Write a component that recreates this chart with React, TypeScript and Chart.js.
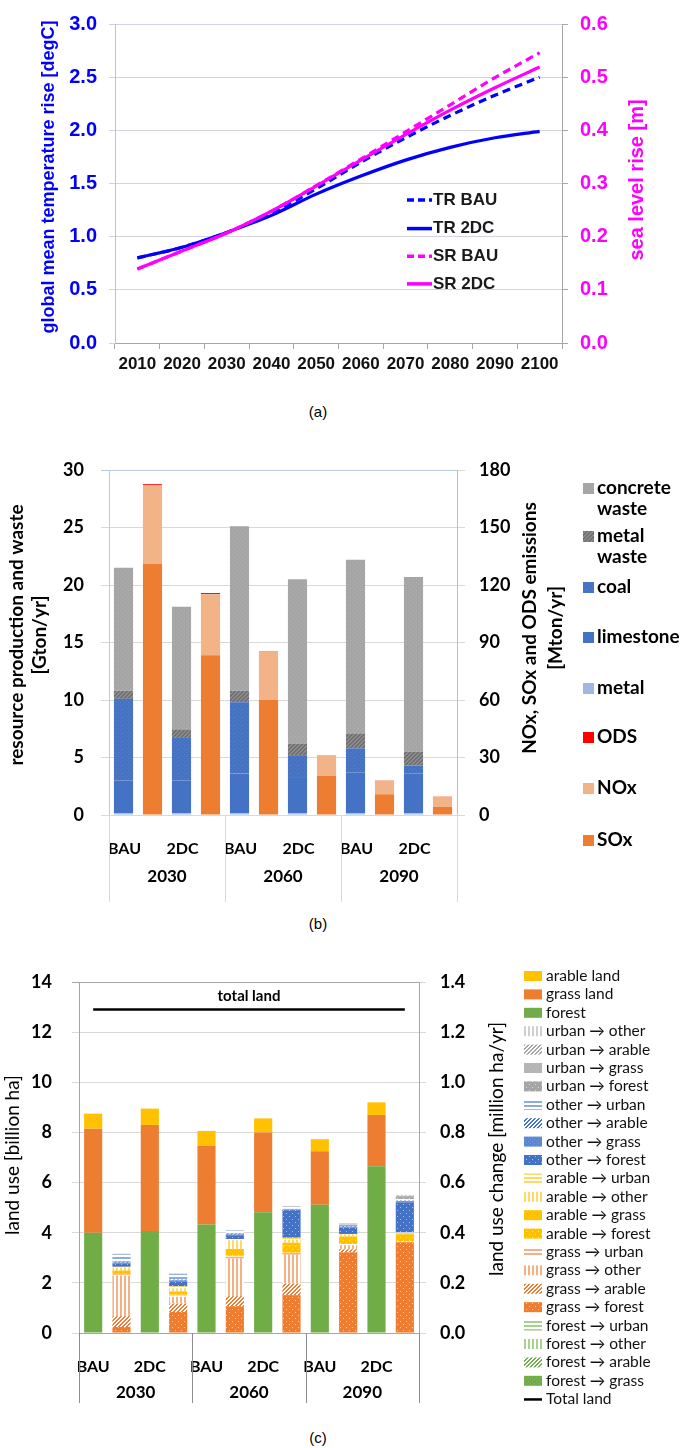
import React, { useEffect, useRef } from "react";
import { Chart, registerables } from "chart.js";
Chart.register(...registerables);

// ---------------- Panel (a): temperature & sea level ----------------
const yearLabels = ["2010", "2020", "2030", "2040", "2050", "2060", "2070", "2080", "2090", "2100"];
const trBAU = [0.8, 0.9, 1.04, 1.22, 1.45, 1.7, 1.93, 2.14, 2.33, 2.5];
const tr2DC = [0.8, 0.9, 1.04, 1.2, 1.4, 1.57, 1.72, 1.84, 1.93, 1.99];
const srBAU = [0.139, 0.173, 0.207, 0.248, 0.296, 0.346, 0.397, 0.448, 0.499, 0.546];
const sr2DC = [0.139, 0.173, 0.207, 0.248, 0.295, 0.344, 0.392, 0.438, 0.48, 0.519];

// ---------------- shared categories for (b) and (c) ----------------
const groupYears = ["2030", "2060", "2090"];
const scenarioNames = ["BAU", "2DC"];
// scenario order: 2030 BAU, 2030 2DC, 2060 BAU, 2060 2DC, 2090 BAU, 2090 2DC

// ---------------- Panel (b): resources [Gton/yr] and emissions [Mton/yr] ----------------
const metal = [0.15, 0.15, 0.15, 0.15, 0.15, 0.15];
const limestone = [2.85, 2.85, 3.45, 3.15, 3.55, 3.45];
const coal = [7.1, 3.7, 6.2, 1.9, 2.1, 0.7];
const metalWaste = [0.7, 0.7, 1.0, 1.0, 1.3, 1.2];
const concreteWaste = [10.7, 10.7, 14.3, 14.3, 15.1, 15.2];
const sox = [131, 83.4, 60, 20.4, 10.8, 4.2];
const nox = [41, 31.8, 25.2, 10.8, 7.2, 5.4];
const ods = [0.6, 0.6, 0.2, 0.1, 0.1, 0.1];

// ---------------- Panel (c): land use [billion ha] and change [million ha/yr] ----------------
const forestLand = [4.0, 4.07, 4.33, 4.82, 5.12, 6.65];
const grassLand = [4.15, 4.23, 3.13, 3.18, 2.13, 2.05];
const arableLand = [0.6, 0.65, 0.6, 0.56, 0.48, 0.5];
const totalLand = [12.9, 12.9, 12.9, 12.9, 12.9, 12.9, 12.9, 12.9, 12.9, 12.9, 12.9, 12.9];

const forestToGrass = [0, 0, 0, 0, 0, 0];
const forestToArable = [0, 0, 0, 0, 0, 0];
const forestToOther = [0, 0, 0, 0, 0, 0];
const forestToUrban = [0, 0, 0, 0, 0, 0];
const grassToForest = [0.024, 0.084, 0.107, 0.151, 0.322, 0.362];
const grassToArable = [0.043, 0.033, 0.04, 0.046, 0.012, 0.002];
const grassToOther = [0.162, 0.027, 0.15, 0.115, 0.016, 0.002];
const grassToUrban = [0.005, 0.005, 0.008, 0.008, 0.005, 0.001];
const arableToForest = [0.005, 0.005, 0.005, 0.03, 0.02, 0.025];
const arableToGrass = [0.01, 0.012, 0.025, 0.01, 0.01, 0.005];
const arableToOther = [0.012, 0.012, 0.035, 0.012, 0.008, 0.002];
const arableToUrban = [0.003, 0.008, 0.005, 0.008, 0.002, 0.002];
const otherToForest = [0.012, 0.02, 0.015, 0.11, 0.025, 0.12];
const otherToGrass = [0.005, 0.004, 0.003, 0.003, 0.004, 0.005];
const otherToArable = [0.003, 0.003, 0.003, 0.002, 0.002, 0.002];
const otherToUrban = [0.03, 0.022, 0.012, 0.008, 0.006, 0.006];
const urbanToForest = [0.001, 0.001, 0.001, 0.002, 0.004, 0.008];
const urbanToGrass = [0.001, 0.001, 0.001, 0.001, 0.001, 0.005];
const urbanToArable = [0, 0, 0, 0, 0, 0.002];
const urbanToOther = [0, 0, 0, 0, 0, 0.002];

// ---------------- styling ----------------
const ARIAL = "'Liberation Sans', Arial, sans-serif";
const CAL = "Lato, 'Open Sans', sans-serif";
const W = 685;
const TOP_A = 0, H_A = 400;
const TOP_B = 430, H_B = 480;
const TOP_C = 945, H_C = 470;

const slotLabels = groupYears.flatMap(() => scenarioNames.flatMap((s) => [s, ""]));
const onLeft = (arr: number[]) => arr.flatMap((v) => [v, null]);
const onRight = (arr: number[]) => arr.flatMap((v) => [null, v]);

function pat(kind: string, fg: string, bg = "#ffffff"): any {
  if (kind === "solid") return fg;
  const n = kind === "dots" ? 6 : 4;
  const c = document.createElement("canvas");
  c.width = n;
  c.height = n;
  const g = c.getContext("2d")!;
  g.fillStyle = bg;
  g.fillRect(0, 0, n, n);
  g.fillStyle = fg;
  if (kind === "h") {
    g.fillRect(0, 0, n, 2);
  } else if (kind === "v") {
    g.fillRect(0, 0, 2, n);
  } else if (kind === "diag") {
    for (let i = 0; i < n; i++) {
      g.fillRect(i, n - 1 - i, 1, 1);
      g.fillRect((i + 1) % n, n - 1 - i, 1, 1);
    }
  } else if (kind === "dots") {
    g.fillRect(0, 0, n, n);
    g.fillStyle = bg;
    g.fillRect(1, 1, 1, 1);
    g.fillRect(4, 4, 1, 1);
  } else if (kind === "fine") {
    g.fillRect(0, 0, n, n);
    g.fillStyle = bg;
    g.globalAlpha = 0.35;
    g.fillRect(0, 0, 1, 1);
    g.fillRect(2, 2, 1, 1);
  }
  return g.createPattern(c, "repeat");
}

function rotText(ctx: CanvasRenderingContext2D, text: string, x: number, y: number, font: string, color: string) {
  ctx.save();
  ctx.translate(x, y);
  ctx.rotate(-Math.PI / 2);
  ctx.font = font;
  ctx.fillStyle = color;
  ctx.textAlign = "center";
  ctx.textBaseline = "middle";
  ctx.fillText(text, 0, 0);
  ctx.restore();
}

function drawGroups(chart: any, labelY: number, lineBottom: number, font: string, lineColor: string) {
  const { ctx, chartArea } = chart;
  const xs = chart.scales.x;
  const n = groupYears.length;
  const bounds: number[] = [];
  for (let g = 0; g <= n; g++) bounds.push(xs.left + ((xs.right - xs.left) * g) / n);
  ctx.save();
  ctx.strokeStyle = lineColor;
  ctx.lineWidth = 1;
  bounds.forEach((b) => {
    const px = Math.round(b) + 0.5;
    ctx.beginPath();
    ctx.moveTo(px, chartArea.bottom);
    ctx.lineTo(px, lineBottom);
    ctx.stroke();
  });
  ctx.font = font;
  ctx.fillStyle = "#000";
  ctx.textAlign = "center";
  ctx.textBaseline = "middle";
  groupYears.forEach((y, i) => ctx.fillText(y, (bounds[i] + bounds[i + 1]) / 2, labelY));
  ctx.restore();
}

function buildA(canvas: HTMLCanvasElement) {
  const legendItems = [
    { label: "TR BAU", color: "#0000FF", dash: [7, 4], v: 1.345 },
    { label: "TR 2DC", color: "#0000FF", dash: [], v: 1.076 },
    { label: "SR BAU", color: "#FF00FF", dash: [7, 4], v: 0.816 },
    { label: "SR 2DC", color: "#FF00FF", dash: [], v: 0.556 },
  ];
  const extras = {
    id: "extrasA",
    afterDraw(chart: any) {
      const { ctx, chartArea } = chart;
      const y = chart.scales.y;
      rotText(ctx, "global mean temperature rise [degC]", 49, 177, `bold 18px ${ARIAL}`, "#0000FF");
      rotText(ctx, "sea level rise [m]", 637, 180, `bold 20px ${ARIAL}`, "#FF00FF");
      ctx.save();
      legendItems.forEach((it) => {
        const py = y.getPixelForValue(it.v);
        ctx.strokeStyle = it.color;
        ctx.lineWidth = 3.5;
        ctx.setLineDash(it.dash);
        ctx.beginPath();
        ctx.moveTo(chartArea.left + 292, py);
        ctx.lineTo(chartArea.left + 317, py);
        ctx.stroke();
        ctx.setLineDash([]);
        ctx.fillStyle = "#1a1a1a";
        ctx.font = `bold 17px ${ARIAL}`;
        ctx.textBaseline = "middle";
        ctx.textAlign = "left";
        ctx.fillText(it.label, chartArea.left + 318, py);
      });
      ctx.restore();
    },
  };
  const line = (label: string, data: number[], color: string, axis: string, dashed: boolean, order: number) => ({
    label,
    data,
    yAxisID: axis,
    borderColor: color,
    backgroundColor: color,
    borderWidth: 3.2,
    borderDash: dashed ? [8, 5] : [],
    pointRadius: 0,
    cubicInterpolationMode: "monotone",
    fill: false,
    order,
  });
  return new Chart(canvas, {
    type: "line",
    data: {
      labels: yearLabels,
      datasets: [
        line("TR BAU", trBAU, "#0000FF", "y", true, 3),
        line("TR 2DC", tr2DC, "#0000FF", "y", false, 2),
        line("SR BAU", srBAU, "#FF00FF", "y2", true, 1),
        line("SR 2DC", sr2DC, "#FF00FF", "y2", false, 0),
      ] as any,
    },
    options: {
      responsive: false,
      animation: false,
      layout: { padding: { top: 8, left: 0, right: 0, bottom: 0 } },
      plugins: { legend: { display: false }, tooltip: { enabled: false } },
      scales: {
        x: {
          type: "category",
          offset: true,
          grid: { offset: true, drawOnChartArea: false, drawTicks: true, tickLength: 6, color: "#A6A6A6" },
          border: { color: "#A6A6A6" },
          ticks: { color: "#111", font: { family: ARIAL, size: 17, weight: "bold" }, padding: 5, autoSkip: false, maxRotation: 0 },
          afterFit: (s: any) => { s.height = H_A - 343; },
        },
        y: {
          position: "left",
          min: 0,
          max: 3,
          ticks: { stepSize: 0.5, color: "#0000FF", font: { family: ARIAL, size: 20, weight: "bold" }, padding: 12, callback: (v: any) => Number(v).toFixed(1) },
          grid: { color: "#D3D3DF", tickLength: 6 },
          border: { color: "#BDBDEB" },
          afterFit: (s: any) => { s.width = 115; },
        },
        y2: {
          position: "right",
          min: 0,
          max: 0.6,
          ticks: { stepSize: 0.1, color: "#FF00FF", font: { family: ARIAL, size: 20, weight: "bold" }, padding: 12, callback: (v: any) => Number(v).toFixed(1) },
          grid: { drawOnChartArea: false, tickLength: 6, color: "#A6A6A6" },
          border: { color: "#A6A6A6" },
          afterFit: (s: any) => { s.width = W - 562; },
        },
      },
    } as any,
    plugins: [extras],
  });
}

function buildB(canvas: HTMLCanvasElement) {
  const P = {
    concrete: pat("fine", "#A5A5A5", "#C8C8C8"),
    metalWaste: pat("diag", "#6F6F6F", "#8C8C8C"),
    coal: pat("fine", "#4472C4", "#7B9BD6"),
    limestone: "#4472C4",
    metal: pat("fine", "#9DB7E3", "#C5D4EF"),
    ods: "#FF0000",
    nox: pat("fine", "#F4B183", "#F8CBAD"),
    sox: "#ED7D31",
  };
  const legend = [
    { lines: ["concrete", "waste"], fill: P.concrete, y: 488 },
    { lines: ["metal", "waste"], fill: P.metalWaste, y: 536 },
    { lines: ["coal"], fill: P.coal, y: 587 },
    { lines: ["limestone"], fill: P.limestone, y: 637 },
    { lines: ["metal"], fill: P.metal, y: 688 },
    { lines: ["ODS"], fill: P.ods, y: 737 },
    { lines: ["NOx"], fill: P.nox, y: 788 },
    { lines: ["SOx"], fill: P.sox, y: 840 },
  ];
  const extras = {
    id: "extrasB",
    afterDraw(chart: any) {
      const { ctx } = chart;
      const f = `bold 19px ${CAL}`;
      rotText(ctx, "resource production and waste", 17, 635 - TOP_B, f, "#000");
      rotText(ctx, "[Gton/yr]", 40, 635 - TOP_B, f, "#000");
      rotText(ctx, "NOx, SOx and ODS emissions", 530, 628 - TOP_B, f, "#000");
      rotText(ctx, "[Mton/yr]", 556, 628 - TOP_B, f, "#000");
      drawGroups(chart, 877 - TOP_B, 902 - TOP_B, `bold 17px ${CAL}`, "#D9D9D9");
      ctx.save();
      legend.forEach((it) => {
        const y0 = it.y - TOP_B;
        ctx.fillStyle = it.fill;
        ctx.fillRect(583, y0 - 5, 11, 11);
        ctx.fillStyle = "#000";
        ctx.font = f;
        ctx.textBaseline = "middle";
        ctx.textAlign = "left";
        it.lines.forEach((t, k) => ctx.fillText(t, 597, y0 + k * 21));
      });
      ctx.restore();
    },
  };
  const bar = (label: string, data: (number | null)[], color: any, axis: string) => ({
    label,
    data,
    backgroundColor: color,
    yAxisID: axis,
    barPercentage: 0.66,
    categoryPercentage: 1,
    borderWidth: 0,
  });
  const tickFont = { family: CAL, size: 18, weight: "bold" };
  return new Chart(canvas, {
    type: "bar",
    data: {
      labels: slotLabels,
      datasets: [
        bar("metal", onLeft(metal), P.metal, "y"),
        bar("limestone", onLeft(limestone), P.limestone, "y"),
        bar("coal", onLeft(coal), P.coal, "y"),
        bar("metal waste", onLeft(metalWaste), P.metalWaste, "y"),
        bar("concrete waste", onLeft(concreteWaste), P.concrete, "y"),
        bar("SOx", onRight(sox), P.sox, "y2"),
        bar("NOx", onRight(nox), P.nox, "y2"),
        bar("ODS", onRight(ods), P.ods, "y2"),
      ] as any,
    },
    options: {
      responsive: false,
      animation: false,
      layout: { padding: { top: 470 - TOP_B, left: 0, right: 0, bottom: 0 } },
      plugins: { legend: { display: false }, tooltip: { enabled: false } },
      scales: {
        x: {
          stacked: true,
          grid: { display: false },
          border: { display: true, color: "#D9D9D9" },
          ticks: { autoSkip: false, maxRotation: 0, color: "#000", font: { family: CAL, size: 16, weight: "bold" }, padding: 16, labelOffset: 1 },
          afterFit: (s: any) => { s.height = H_B - (815 - TOP_B); },
        },
        y: {
          stacked: true,
          min: 0,
          max: 30,
          ticks: { stepSize: 5, padding: 17, color: "#000", font: tickFont },
          grid: { color: (c: any) => (c.tick && c.tick.value === 30 ? "#B4C7E7" : "#D9D9D9"), tickLength: 8 },
          border: { color: "#C5C5DD" },
          afterFit: (s: any) => { s.width = 109; },
        },
        y2: {
          position: "right",
          stacked: true,
          min: 0,
          max: 180,
          ticks: { stepSize: 30, padding: 14, color: "#000", font: tickFont },
          grid: { drawOnChartArea: false, tickLength: 8, color: "#D9D9D9" },
          border: { color: "#BFBFBF" },
          afterFit: (s: any) => { s.width = W - 457; },
        },
      },
    } as any,
    plugins: [extras],
  });
}

function buildC(canvas: HTMLCanvasElement) {
  const P: Record<string, any> = {
    arableLand: pat("fine", "#FFC000", "#FFD24D"),
    grassLand: "#ED7D31",
    forest: "#70AD47",
    urbanToOther: pat("v", "#CFCFCF"),
    urbanToArable: pat("diag", "#A5A5A5"),
    urbanToGrass: pat("fine", "#B4B4B4", "#D8D8D8"),
    urbanToForest: pat("dots", "#A5A5A5", "#D9D9D9"),
    otherToUrban: pat("h", "#8FAADC"),
    otherToArable: pat("diag", "#4472C4"),
    otherToGrass: pat("fine", "#5B86D0", "#9DB7E3"),
    otherToForest: pat("dots", "#4472C4", "#A9BFE8"),
    arableToUrban: pat("h", "#FFD966"),
    arableToOther: pat("v", "#FFD966"),
    arableToGrass: pat("fine", "#FFC000", "#FFE699"),
    arableToForest: pat("dots", "#FFC000", "#FFE699"),
    grassToUrban: pat("h", "#F4B183"),
    grassToOther: pat("v", "#F4B183"),
    grassToArable: pat("diag", "#ED7D31"),
    grassToForest: pat("dots", "#ED7D31", "#F8CBAD"),
    forestToUrban: pat("h", "#A9D18E"),
    forestToOther: pat("v", "#A9D18E"),
    forestToArable: pat("diag", "#70AD47"),
    forestToGrass: pat("fine", "#70AD47", "#A9D18E"),
  };
  const changeSeries: [string, string, number[]][] = [
    ["forest → grass", "forestToGrass", forestToGrass],
    ["forest → arable", "forestToArable", forestToArable],
    ["forest → other", "forestToOther", forestToOther],
    ["forest → urban", "forestToUrban", forestToUrban],
    ["grass → forest", "grassToForest", grassToForest],
    ["grass → arable", "grassToArable", grassToArable],
    ["grass → other", "grassToOther", grassToOther],
    ["grass → urban", "grassToUrban", grassToUrban],
    ["arable → forest", "arableToForest", arableToForest],
    ["arable → grass", "arableToGrass", arableToGrass],
    ["arable → other", "arableToOther", arableToOther],
    ["arable → urban", "arableToUrban", arableToUrban],
    ["other → forest", "otherToForest", otherToForest],
    ["other → grass", "otherToGrass", otherToGrass],
    ["other → arable", "otherToArable", otherToArable],
    ["other → urban", "otherToUrban", otherToUrban],
    ["urban → forest", "urbanToForest", urbanToForest],
    ["urban → grass", "urbanToGrass", urbanToGrass],
    ["urban → arable", "urbanToArable", urbanToArable],
    ["urban → other", "urbanToOther", urbanToOther],
  ];
  const legend: { label: string; fill: any; line?: boolean }[] = [
    { label: "arable land", fill: P.arableLand },
    { label: "grass land", fill: P.grassLand },
    { label: "forest", fill: P.forest },
    ...changeSeries.slice().reverse().map(([label, key]) => ({ label, fill: P[key] })),
    { label: "Total land", fill: "#000", line: true },
  ];
  const extras = {
    id: "extrasC",
    afterDraw(chart: any) {
      const { ctx, chartArea } = chart;
      const y = chart.scales.y;
      rotText(ctx, "land use [billion ha]", 13, 1155 - TOP_C, `19px ${CAL}`, "#000");
      rotText(ctx, "land use change [million ha/yr]", 497, 1149 - TOP_C, `19px ${CAL}`, "#000");
      drawGroups(chart, 1393 - TOP_C, 1403 - TOP_C, `bold 17px ${CAL}`, "#8C8C8C");
      ctx.save();
      ctx.font = `bold 15px ${CAL}`;
      ctx.fillStyle = "#000";
      ctx.textAlign = "center";
      ctx.textBaseline = "middle";
      ctx.fillText("total land", (chartArea.left + chartArea.right) / 2, y.getPixelForValue(totalLand[0]) - 13);
      ctx.font = `15.5px ${CAL}`;
      ctx.textAlign = "left";
      legend.forEach((it, i) => {
        const yy = 976 - TOP_C + i * 18.4;
        if (it.line) {
          ctx.fillStyle = "#000";
          ctx.fillRect(524, yy - 1, 18, 2.5);
        } else {
          ctx.fillStyle = it.fill;
          ctx.fillRect(524, yy - 5, 18, 10);
        }
        ctx.fillStyle = "#111";
        ctx.fillText(it.label, 546, yy);
      });
      ctx.restore();
    },
  };
  const bar = (label: string, data: (number | null)[], color: any, axis: string) => ({
    type: "bar",
    label,
    data,
    backgroundColor: color,
    yAxisID: axis,
    barPercentage: 0.64,
    categoryPercentage: 1,
    borderWidth: 0,
  });
  const tickFont = { family: CAL, size: 18, weight: "bold" };
  return new Chart(canvas, {
    type: "bar",
    data: {
      labels: slotLabels,
      datasets: [
        bar("forest", onLeft(forestLand), P.forest, "y"),
        bar("grass land", onLeft(grassLand), P.grassLand, "y"),
        bar("arable land", onLeft(arableLand), P.arableLand, "y"),
        ...changeSeries.map(([label, key, arr]) => bar(label, onRight(arr), P[key], "y2")),
        {
          type: "line",
          label: "Total land",
          data: totalLand,
          yAxisID: "y",
          borderColor: "#000",
          backgroundColor: "#000",
          borderWidth: 2.5,
          pointRadius: 0,
          fill: false,
        },
      ] as any,
    },
    options: {
      responsive: false,
      animation: false,
      layout: { padding: { top: 982 - TOP_C, left: 0, right: 0, bottom: 0 } },
      plugins: { legend: { display: false }, tooltip: { enabled: false } },
      scales: {
        x: {
          stacked: true,
          grid: { display: false },
          border: { display: true, color: "#A6A6A6" },
          ticks: { autoSkip: false, maxRotation: 0, color: "#000", font: { family: CAL, size: 16, weight: "bold" }, padding: 16 },
          afterFit: (s: any) => { s.height = H_C - (1333 - TOP_C); },
        },
        y: {
          stacked: true,
          min: 0,
          max: 14,
          ticks: { stepSize: 2, padding: 20, color: "#000", font: tickFont },
          grid: { color: (c: any) => (c.tick && c.tick.value === 14 ? "#A6A6A6" : "#D9D9D9"), tickLength: 7 },
          border: { color: "#A6A6A6" },
          afterFit: (s: any) => { s.width = 79; },
        },
        y2: {
          position: "right",
          stacked: true,
          min: 0,
          max: 1.4,
          ticks: { stepSize: 0.2, padding: 14, color: "#000", font: tickFont, callback: (v: any) => Number(v).toFixed(1) },
          grid: { drawOnChartArea: false, tickLength: 7, color: "#D9D9D9" },
          border: { color: "#A6A6A6" },
          afterFit: (s: any) => { s.width = W - 419; },
        },
      },
    } as any,
    plugins: [extras],
  });
}

const caption = (top: number): React.CSSProperties => ({
  position: "absolute",
  left: 318,
  top: top - 9,
  transform: "translateX(-50%)",
  fontFamily: ARIAL,
  fontSize: 15,
  color: "#000",
  lineHeight: "18px",
});

export default function App() {
  const refA = useRef<HTMLCanvasElement>(null);
  const refB = useRef<HTMLCanvasElement>(null);
  const refC = useRef<HTMLCanvasElement>(null);
  useEffect(() => {
    const charts = [buildA(refA.current!), buildB(refB.current!), buildC(refC.current!)];
    return () => charts.forEach((c) => c.destroy());
  }, []);
  return (
    <div style={{ position: "absolute", left: 0, top: 0, width: W, height: 1448, background: "#fff", overflow: "hidden" }}>
      <canvas ref={refA} width={W} height={H_A} style={{ position: "absolute", left: 0, top: TOP_A }} />
      <div style={caption(412)}>(a)</div>
      <canvas ref={refB} width={W} height={H_B} style={{ position: "absolute", left: 0, top: TOP_B }} />
      <div style={caption(924)}>(b)</div>
      <canvas ref={refC} width={W} height={H_C} style={{ position: "absolute", left: 0, top: TOP_C }} />
      <div style={caption(1438)}>(c)</div>
    </div>
  );
}
